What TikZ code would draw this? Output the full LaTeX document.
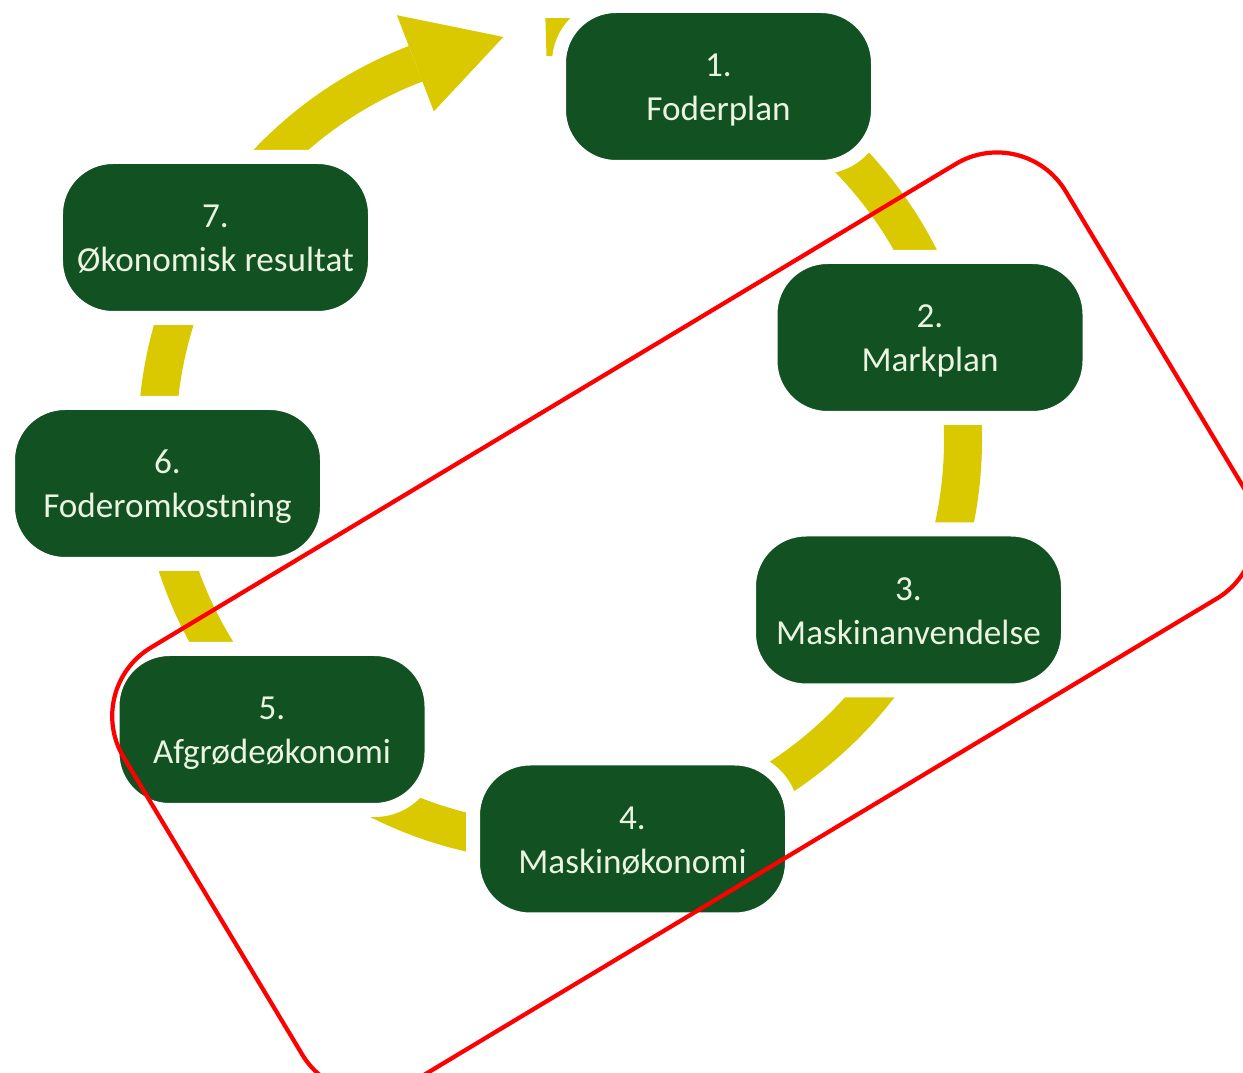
\documentclass[tikz,border=0pt]{standalone}
\usepackage{fontspec}
\setmainfont{Carlito}
\definecolor{boxgreen}{RGB}{17,81,34}
\definecolor{ringyellow}{RGB}{218,200,0}
\definecolor{boxtext}{RGB}{234,244,224}

\begin{document}
\begin{tikzpicture}[scale=1,
        stepbox/.style={draw=white, line width=0.14cm, fill=boxgreen, rounded corners=0.57cm,
            minimum width=3.19cm, minimum height=1.61cm, inner sep=0pt, align=center,
            text height=22pt, text depth=2.5pt,
            text=boxtext, font=\fontsize{10}{12.5}\selectfont},
        ringband/.style={ringyellow, line width=0.38cm}]
        \useasboundingbox (0,0) rectangle (12.43,10.73);
        \clip (0,0) rectangle (12.43,10.73);
        % --- anello: centro (5.6,6.33), raggio 4.03, freccia verso il passo 1 ---
        \begin{scope}[shift={(5.6,6.33)}]
            \draw[ringband] (92:4.03) arc (92:-249:4.03);
            \fill[ringyellow] (111:4.55) -- (98:4.07) -- (111:3.52) -- cycle;
        \end{scope}
        % --- passi 1-7 ---
        \node[stepbox] (foderplan) at (7.185,9.865) {1.\\Foderplan};
        \node[stepbox] (markplan) at (9.30,7.355) {2.\\Markplan};
        \node[stepbox] (maskinanv) at (9.085,4.63) {3.\\Maskinanvendelse};
        \node[stepbox] (maskinok) at (6.325,2.34) {4.\\Maskinøkonomi};
        \node[stepbox] (afgrode) at (2.72,3.435) {5.\\Afgrødeøkonomi};
        \node[stepbox] (foderomk) at (1.675,5.895) {6.\\Foderomkostning};
        \node[stepbox] (resultat) at (2.155,8.355) {7.\\Økonomisk resultat};
        % --- cornice rossa ruotata ---
        \node[draw=red, line width=1.2pt, rounded corners=0.8cm, rotate=31,
            minimum width=10.99cm, minimum height=5.07cm, inner sep=0pt] (fokus) at (6.84,4.50) {};
    \end{tikzpicture}
\end{document}
